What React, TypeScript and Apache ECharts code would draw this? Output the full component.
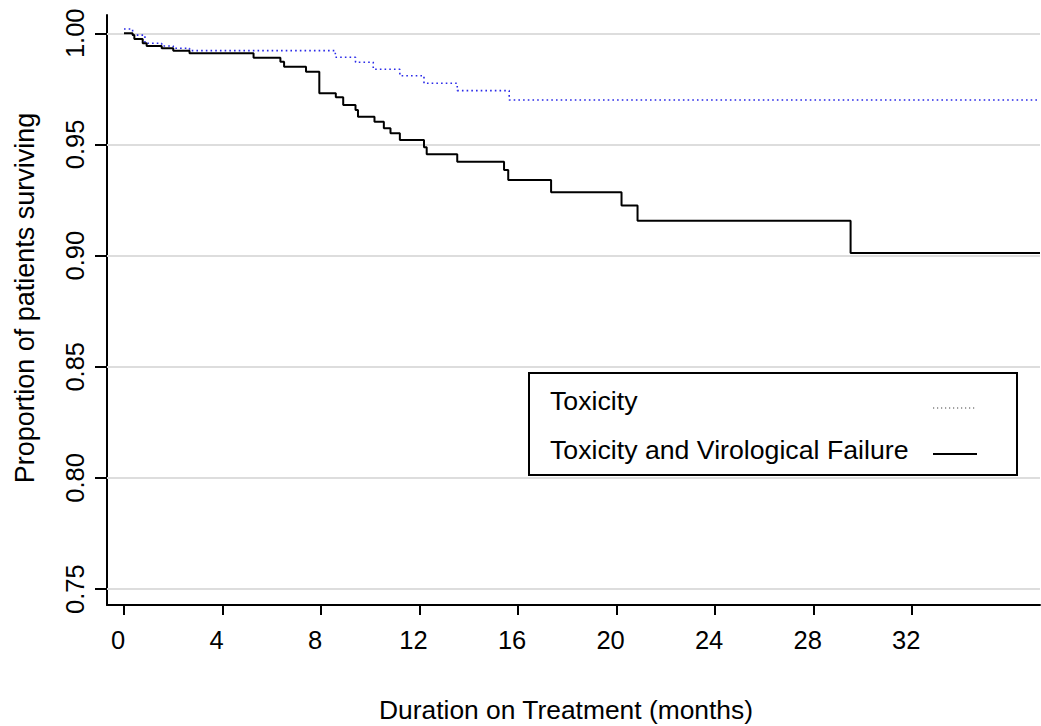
import React, { useEffect, useRef } from "react";
import * as echarts from "echarts";

// ---- Data ----
const xTickValues = [0, 4, 8, 12, 16, 20, 24, 28, 32];
const yTickValues = [0.75, 0.8, 0.85, 0.9, 0.95, 1.0];

// Toxicity and Virological Failure (solid black), step-after survival estimates
const tvfTimes = [0, 0.35, 0.42, 0.76, 0.92, 1.53, 2.0, 2.66, 5.26, 6.35, 6.5, 7.39, 7.93, 8.6, 8.9, 9.4, 9.5, 10.17, 10.55, 10.82, 11.2, 12.18, 12.29, 13.53, 15.43, 15.6, 17.34, 20.2, 20.85, 29.5, 37.19];
const tvfValues = [1.0, 0.9992, 0.9974, 0.9955, 0.9943, 0.9933, 0.9922, 0.991, 0.989, 0.9872, 0.985, 0.9827, 0.973, 0.9712, 0.9678, 0.9655, 0.9625, 0.9602, 0.9573, 0.955, 0.952, 0.9487, 0.9456, 0.9422, 0.9385, 0.934, 0.9285, 0.9225, 0.9157, 0.9012, 0.9012];

// Toxicity (dotted blue)
const toxTimes = [0, 0.35, 0.85, 1.53, 2.0, 2.66, 8.58, 9.4, 10.12, 11.2, 12.18, 13.53, 15.64, 37.19];
const toxValues = [1.0019, 0.9992, 0.9955, 0.9943, 0.9933, 0.9922, 0.9892, 0.987, 0.9838, 0.9809, 0.9775, 0.9742, 0.97, 0.97];

const seriesNames = ["Toxicity", "Toxicity and Virological Failure"];
const xTitle = "Duration on Treatment (months)";
const yTitle = "Proportion of patients surviving";

const X_MIN = -0.69;
const X_MAX = 37.19;
const Y_MIN = 0.74285;
const Y_MAX = 1.00823;

const FONT = '"Liberation Sans", Arial, Helvetica, sans-serif';

function pairs(t: number[], v: number[]) {
  return t.map((x, i) => [x, v[i]]);
}

export default function App() {
  const ref = useRef<HTMLDivElement>(null);
  useEffect(() => {
    if (!ref.current) return;
    const chart = echarts.init(ref.current, undefined, { renderer: "svg" });
    const option: any = {
      animation: false,
      backgroundColor: "#ffffff",
      grid: { left: 107, top: 15, right: 1, bottom: 121, containLabel: false },
      xAxis: {
        type: "value",
        min: X_MIN,
        max: X_MAX,
        axisLine: { show: true, onZero: false, lineStyle: { color: "#000", width: 2 } },
        axisTick: { show: true, length: 10, lineStyle: { color: "#000", width: 2 }, customValues: xTickValues },
        axisLabel: {
          customValues: xTickValues,
          color: "#000",
          fontSize: 25.5,
          fontFamily: FONT,
          margin: 22,
          padding: [0, 12, 0, 0],
        },
        splitLine: { show: false },
      },
      yAxis: {
        type: "value",
        min: Y_MIN,
        max: Y_MAX,
        axisLine: { show: true, onZero: false, lineStyle: { color: "#000", width: 2 } },
        axisTick: { show: true, length: 12, lineStyle: { color: "#000", width: 2 }, customValues: yTickValues },
        axisLabel: {
          customValues: yTickValues,
          rotate: 90,
          color: "#000",
          fontSize: 25.5,
          fontFamily: FONT,
          margin: 19,
          formatter: (v: number) => v.toFixed(2),
        },
        splitLine: { show: false },
      },
      series: [
        {
          name: seriesNames[1],
          type: "line",
          step: "end",
          showSymbol: false,
          symbol: "none",
          data: pairs(tvfTimes, tvfValues),
          lineStyle: { color: "#000", width: 2 },
          z: 3,
          markLine: {
            silent: true,
            symbol: "none",
            z: 1,
            label: { show: false },
            lineStyle: { color: "#dddddd", width: 2, type: "solid" },
            data: yTickValues.map((v) => ({ yAxis: v })),
          },
        },
        {
          name: seriesNames[0],
          type: "line",
          step: "end",
          showSymbol: false,
          symbol: "none",
          data: pairs(toxTimes, toxValues),
          lineStyle: { color: "#2a2ae8", width: 1.6, type: [1.6, 3.1] },
          z: 2,
        },
      ],
      graphic: [
        {
          type: "text",
          x: 566,
          y: 710,
          style: { text: xTitle, fill: "#000", font: `26.4px ${FONT}`, align: "center", verticalAlign: "middle", textAlign: "center", textVerticalAlign: "middle" },
        },
        {
          type: "text",
          x: 25,
          y: 298,
          rotation: Math.PI / 2,
          style: { text: yTitle, fill: "#000", font: `27px ${FONT}`, align: "center", verticalAlign: "middle", textAlign: "center", textVerticalAlign: "middle" },
        },
        {
          type: "rect",
          shape: { x: 529, y: 373, width: 488, height: 102 },
          style: { fill: "#fff", stroke: "#000", lineWidth: 2 },
          z: 10,
        },
        {
          type: "text",
          x: 550,
          y: 401,
          z: 11,
          style: { text: seriesNames[0], fill: "#000", font: `26.7px ${FONT}`, align: "left", verticalAlign: "middle", textAlign: "left", textVerticalAlign: "middle" },
        },
        {
          type: "text",
          x: 550,
          y: 450,
          z: 11,
          style: { text: seriesNames[1], fill: "#000", font: `26.7px ${FONT}`, align: "left", verticalAlign: "middle", textAlign: "left", textVerticalAlign: "middle" },
        },
        {
          type: "line",
          z: 11,
          shape: { x1: 933, y1: 408, x2: 977, y2: 408 },
          style: { stroke: "#444", lineWidth: 1.2, lineDash: [1.2, 2.8] },
        },
        {
          type: "line",
          z: 11,
          shape: { x1: 933, y1: 454, x2: 977, y2: 454 },
          style: { stroke: "#000", lineWidth: 2 },
        },
      ],
    };
    chart.setOption(option);
    return () => chart.dispose();
  }, []);
  return <div ref={ref} style={{ position: "fixed", left: 0, top: 0, width: 1041, height: 726 }} />;
}
